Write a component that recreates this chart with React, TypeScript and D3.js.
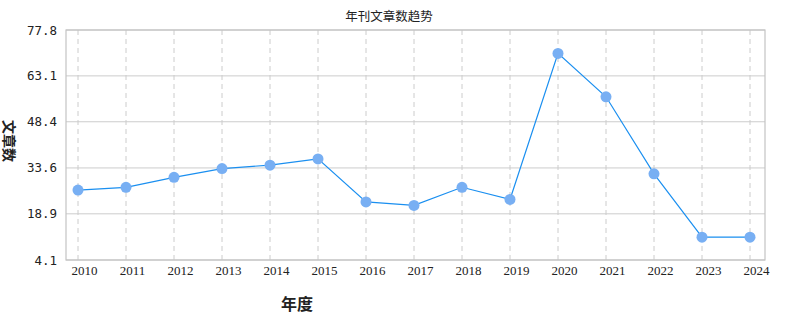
import React from 'react';
import * as d3 from 'd3';

const width = 790;
const height = 330;
const margin = {top: 30, right: 25, bottom: 70, left: 66};

const years = ['2010', '2011', '2012', '2013', '2014', '2015', '2016', '2017',
  '2018', '2019', '2020', '2021', '2022', '2023', '2024'];
const counts = [26.5, 27.4, 30.6, 33.4, 34.5, 36.5, 22.7, 21.6, 27.4, 23.5,
  70.3, 56.4, 31.7, 11.4, 11.4];
const yTicks = [4.1, 18.9, 33.6, 48.4, 63.1, 77.8];

const gridColor = '#cccccc';
const lineColor = '#1a8ff0';
const dotColor = '#78aff3';

const App: React.FC = () => {
  const x = d3.scalePoint<string>()
    .domain(years)
    .range([margin.left + 12, width - margin.right - 15]);

  const y = d3.scaleLinear()
    .domain([4.1, 77.8])
    .range([height - margin.bottom, margin.top]);

  const line = d3.line<number>()
    .x((_, i) => x(years[i]) as number)
    .y(d => y(d));

  const left = margin.left;
  const right = width - margin.right;
  const top = margin.top;
  const bottom = height - margin.bottom;

  return (
    <svg width={width} height={height} style={{position: 'absolute', left: 0, top: 0}}>
      <rect width={width} height={height} fill='#fff' />
      {yTicks.map(t => (
        <g key={t}>
          <line x1={left} x2={right} y1={y(t)} y2={y(t)} stroke={gridColor} strokeWidth={1} />
          <text x={57} y={y(t) + 4.5} textAnchor='end' fontFamily='DejaVu Sans Mono'
            fontSize={12.5} fill='#222'>{t.toFixed(1)}</text>
        </g>
      ))}
      {years.map(yr => (
        <g key={yr}>
          <line x1={x(yr)} x2={x(yr)} y1={top} y2={bottom} stroke={gridColor}
            strokeDasharray='5,4' />
          <text x={(x(yr) as number) + 6.5} y={275} textAnchor='middle'
            fontFamily='Liberation Serif' fontSize={13} fill='#222'>{yr}</text>
        </g>
      ))}
      <rect x={left} y={top} width={right - left} height={bottom - top} fill='none'
        stroke='#c4c4c4' strokeWidth={1.2} />
      <path d={line(counts) || ''} fill='none' stroke={lineColor} strokeWidth={1.2} />
      {counts.map((c, i) => (
        <circle key={years[i]} cx={x(years[i])} cy={y(c)} r={5.5} fill={dotColor} />
      ))}
      <text x={389} y={21} textAnchor='middle' fontFamily='Noto Sans CJK SC'
        fontSize={12.5} fill='#222'>年刊文章数趋势</text>
      <text x={297} y={310} textAnchor='middle' fontFamily='Noto Sans CJK SC'
        fontSize={16} fontWeight='bold' fill='#222'>年度</text>
      <text transform='translate(3.5, 141) rotate(90)' textAnchor='middle'
        fontFamily='Noto Sans CJK SC' fontSize={14} fontWeight='bold' fill='#222'>文章数</text>
    </svg>
  );
};

export default App;
